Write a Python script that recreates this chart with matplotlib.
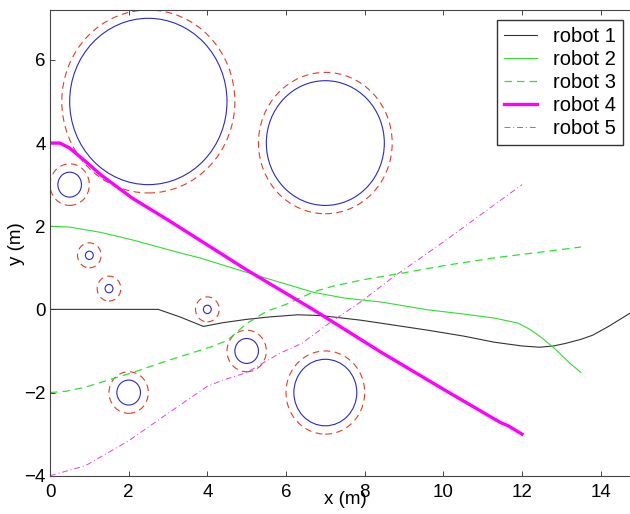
import matplotlib
matplotlib.use("Agg")
import matplotlib.pyplot as plt
from matplotlib.patches import Circle

plt.rcParams['font.family'] = ['Liberation Sans', 'DejaVu Sans']

# obstacles: centre, body radius, safety radius
obs_x = [2.5, 7.0, 0.5, 1.0, 1.5, 4.0, 5.0, 2.0, 7.0]
obs_y = [5.0, 4.0, 3.0, 1.3, 0.5, 0.0, -1.0, -2.0, -2.0]
obs_r = [2.0, 1.5, 0.3, 0.1, 0.1, 0.1, 0.3, 0.3, 0.8]
obs_s = [2.2, 1.7, 0.5, 0.3, 0.3, 0.3, 0.5, 0.5, 1.0]

# robot paths
r1_x = [0, 2.75, 3.3, 3.9, 4.4, 5.0, 5.6, 6.3, 6.9, 7.9, 8.4, 9.6, 10.5, 11.3, 12.0, 12.45, 12.8, 13.1, 13.5, 13.8, 14.2, 14.8]
r1_y = [0, 0, -0.18, -0.41, -0.32, -0.24, -0.18, -0.13, -0.15, -0.26, -0.33, -0.50, -0.64, -0.79, -0.88, -0.91, -0.88, -0.82, -0.72, -0.62, -0.41, -0.06]

r2_x = [0, 0.5, 1.3, 2.1, 3.3, 3.8, 5.0, 5.85, 6.7, 7.5, 8.4, 9.6, 10.5, 11.3, 11.9, 12.2, 12.5, 12.85, 13.2, 13.5]
r2_y = [2, 1.98, 1.85, 1.67, 1.36, 1.24, 0.89, 0.65, 0.41, 0.27, 0.18, -0.01, -0.11, -0.21, -0.33, -0.48, -0.68, -0.96, -1.28, -1.52]

r3_x = [0, 0.4, 0.9, 2.0, 3.0, 4.1, 4.5, 5.0, 5.5, 6.0, 6.7, 7.2, 8.0, 9.0, 10.0, 11.3, 12.5, 13.5]
r3_y = [-2, -1.97, -1.87, -1.55, -1.23, -0.9, -0.75, -0.34, -0.05, 0.12, 0.42, 0.56, 0.72, 0.88, 1.05, 1.24, 1.38, 1.5]

r4_x = [0, 0.25, 0.5, 0.95, 1.3, 2.1, 3.0, 3.8, 5.0, 6.7, 8.4, 10.0, 11.45, 11.65, 12.0]
r4_y = [4, 4, 3.88, 3.52, 3.23, 2.67, 2.15, 1.67, 0.95, -0.01, -1.02, -1.92, -2.72, -2.8, -3.0]

r5_x = [0, 0.9, 2.0, 3.0, 4.0, 4.4, 5.0, 5.85, 6.4, 7.1, 7.9, 8.7, 10.0, 12.0]
r5_y = [-4, -3.76, -3.16, -2.5, -1.85, -1.7, -1.52, -1.05, -0.82, -0.33, 0.18, 0.76, 1.62, 3.0]

fig = plt.figure(figsize=(6.3, 5.14), dpi=100)
ax = fig.add_axes([50 / 630, 38.3 / 514, 590 / 630, 465.7 / 514])

for cx, cy, r, s in zip(obs_x, obs_y, obs_r, obs_s):
    ax.add_patch(Circle((cx, cy), r, fill=False, ec='#2a2ac0', lw=0.8))
    ax.add_patch(Circle((cx, cy), s, fill=False, ec='#e23c28', lw=0.8, ls=(0, (6, 4))))

ax.plot(r1_x, r1_y, color='#333333', lw=0.8, label='robot 1')
ax.plot(r2_x, r2_y, color='#33dd33', lw=0.8, label='robot 2')
ax.plot(r3_x, r3_y, color='#33dd33', lw=0.9, ls=(0, (6, 4)), label='robot 3')
ax.plot(r4_x, r4_y, color='#ff00ff', lw=2.4, label='robot 4')
ax.plot(r5_x, r5_y, color='#e040e0', lw=0.7, ls=(0, (6, 3, 1, 3)), label='robot 5')

ax.set_xlim(0, 15)
ax.set_ylim(-4, 7.2)
ax.set_xticks(range(0, 15, 2))
ax.set_yticks(range(-4, 7, 2))
ax.tick_params(direction='in', length=3.5, width=0.7, labelsize=13.5,
               top=True, right=True, color='#444444')
ax.tick_params(axis='x', pad=6)
ax.tick_params(axis='y', pad=3)
for sp in ax.spines.values():
    sp.set_color('#444444')
    sp.set_linewidth(0.8)

ax.set_xlabel('x (m)', fontsize=13.5, va='center')
ax.set_ylabel('y (m)', fontsize=13.5, va='center')
ax.xaxis.set_label_coords(0.5, -0.052)
ax.yaxis.set_label_coords(-0.0576, 0.4975)

ax.legend(loc='upper left', bbox_to_anchor=(497 / 630, 494 / 514),
          bbox_transform=fig.transFigure, borderaxespad=0, fontsize=14.5,
          frameon=True, fancybox=False, edgecolor='#333333', framealpha=1,
          labelspacing=0.2, handlelength=1.65, handletextpad=0.8, borderpad=0.35)

fig.savefig('out.png', dpi=100)
